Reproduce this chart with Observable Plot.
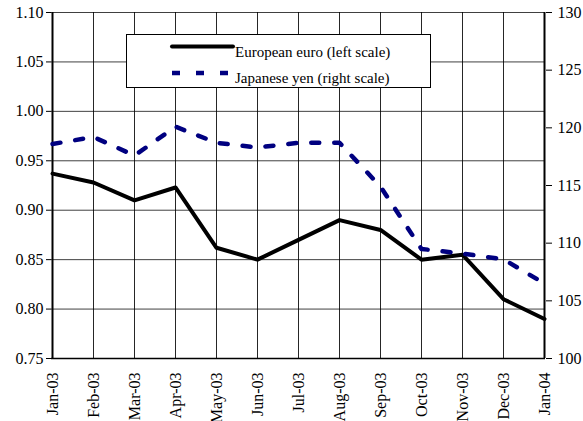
<!DOCTYPE html>
<html>
<head>
<meta charset="utf-8">
<script src="https://cdn.jsdelivr.net/npm/d3@7"></script>
<script src="https://cdn.jsdelivr.net/npm/@observablehq/plot@0.6"></script>
<style>
  body { margin: 0; background: white; }
  #wrap { position: relative; width: 583px; height: 421px; }
  #wrap svg text { font-family: "Liberation Serif", "Times New Roman", serif; }
  #legend {
    position: absolute; left: 126px; top: 34px; width: 305px; height: 54px;
    border: 1px solid #000; background: white; box-sizing: border-box;
    font-family: "Liberation Serif", "Times New Roman", serif; font-size: 15px; color: #000;
  }
  #legend svg { position: absolute; left: 0; top: 0; }
  #legend .t { position: absolute; left: 108px; white-space: nowrap; line-height: 15px; }
</style>
</head>
<body>
<div id="wrap"></div>
<script>
const months = ["Jan-03","Feb-03","Mar-03","Apr-03","May-03","Jun-03","Jul-03","Aug-03","Sep-03","Oct-03","Nov-03","Dec-03","Jan-04"];
const euro = [0.937, 0.928, 0.910, 0.923, 0.862, 0.850, 0.870, 0.890, 0.880, 0.850, 0.855, 0.810, 0.790];
const yen = [118.6, 119.2, 117.6, 120.1, 118.7, 118.3, 118.7, 118.7, 114.9, 109.5, 109.1, 108.6, 106.5];
const leftTicks = [0.75, 0.80, 0.85, 0.90, 0.95, 1.00, 1.05, 1.10];
const rightTicks = [100, 105, 110, 115, 120, 125, 130];
const leftDomain = [0.75, 1.10];
const rightDomain = [100, 130];
const seriesNames = ["European euro (left scale)", "Japanese yen (right scale)"];

// map right-scale values onto the left scale
const toLeft = d3.scaleLinear().domain(rightDomain).range(leftDomain);

const euroData = months.map((m, i) => ({month: m, value: euro[i]}));
const yenData = months.map((m, i) => ({month: m, value: toLeft(yen[i])}));

const serif = "'Liberation Serif', 'Times New Roman', serif";

const chart = Plot.plot({
  width: 583,
  height: 421,
  marginLeft: 51,
  marginRight: 38,
  marginTop: 12,
  marginBottom: 63,
  style: {fontFamily: serif, fontSize: "16px", background: "white", color: "black"},
  x: {type: "point", domain: months, padding: 0, label: null},
  y: {domain: leftDomain, label: null},
  marks: [
    Plot.gridY(leftTicks, {stroke: "#000", strokeOpacity: 0.75}),
    Plot.gridX(months, {stroke: "#000", strokeOpacity: 0.85}),
    Plot.axisY(leftTicks, {tickSize: 5, tickPadding: 3, fontSize: 16, fontFamily: serif, label: null, tickFormat: d => d.toFixed(2)}),
    Plot.axisY(rightTicks.map(toLeft), {anchor: "right", tickSize: 6, tickPadding: 6, fontSize: 16, fontFamily: serif, label: null, tickFormat: d => Math.round(toLeft.invert(d))}),
    Plot.axisX(months, {tickRotate: -90, tickSize: 0, tickPadding: 14, fontSize: 16, fontFamily: serif, label: null}),
    Plot.ruleX([months[0], months[months.length - 1]], {stroke: "#000", strokeWidth: 2}),
    Plot.ruleY([leftDomain[0]], {stroke: "#000", strokeWidth: 1.5}),
    Plot.line(euroData, {x: "month", y: "value", stroke: "#000", strokeWidth: 4}),
    Plot.line(yenData, {x: "month", y: "value", stroke: "#000080", strokeWidth: 4.5, strokeDasharray: "8,15"})
  ]
});

const wrap = document.getElementById("wrap");
wrap.appendChild(chart);

const legend = document.createElement("div");
legend.id = "legend";
legend.innerHTML = `
  <svg width="305" height="54">
    <line x1="45" x2="106" y1="11.5" y2="11.5" stroke="#000" stroke-width="4" stroke-linecap="round"/>
    <line x1="45" x2="104" y1="38" y2="38" stroke="#000080" stroke-width="4.5" stroke-dasharray="8,16"/>
  </svg>
  <div class="t" style="top:10px">${seriesNames[0]}</div>
  <div class="t" style="top:36px">${seriesNames[1]}</div>`;
wrap.appendChild(legend);
</script>
</body>
</html>
